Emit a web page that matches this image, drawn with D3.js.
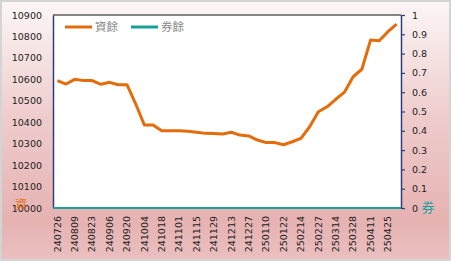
<!DOCTYPE html>
<html>
<head>
<meta charset="utf-8">
<script src="https://cdn.jsdelivr.net/npm/d3@7"></script>
<style>
  html, body { margin: 0; padding: 0; background: #fff; }
  svg { display: block; }
</style>
</head>
<body>
<div id="chart"></div>
<script>
// weekly dates (every other one is labelled)
const dates = ["240726","240802","240809","240816","240823","240830","240906","240913","240920","240927",
  "241004","241011","241018","241025","241101","241108","241115","241122","241129","241206",
  "241213","241220","241227","250103","250110","250117","250122","250207","250214","250221",
  "250227","250307","250314","250321","250328","250403","250411","250418","250425","250502"];
// 資餘 (left axis)
const marginBal = [10594,10578,10600,10594,10594,10577,10586,10575,10575,10486,
  10387,10387,10360,10360,10360,10358,10353,10348,10347,10345,
  10353,10340,10336,10317,10305,10305,10295,10309,10325,10379,
  10449,10472,10507,10540,10612,10647,10783,10780,10822,10857];
// 券餘 (right axis)
const shortBal = [0,0,0,0,0,0,0,0,0,0, 0,0,0,0,0,0,0,0,0,0,
  0,0,0,0,0,0,0,0,0,0, 0,0,0,0,0,0,0,0,0,0];
const leftTicks = [10000,10100,10200,10300,10400,10500,10600,10700,10800,10900];
const rightTicks = [0,0.1,0.2,0.3,0.4,0.5,0.6,0.7,0.8,0.9,1];
const seriesNames = ["資餘", "券餘"];
const colors = ["#e46c0a", "#18a09b"];

const W = 451, H = 261;
const margin = {top: 15, right: 50, bottom: 53, left: 53};
const width = W - margin.left - margin.right, height = H - margin.top - margin.bottom;
const font = "DejaVu Sans, Verdana, sans-serif";

const svg = d3.select("#chart").append("svg")
    .attr("width", W).attr("height", H);

// background gradient
const defs = svg.append("defs");
const grad = defs.append("linearGradient").attr("id", "bg")
    .attr("x1", 0).attr("y1", 0).attr("x2", 0).attr("y2", 1);
grad.append("stop").attr("offset", "0%").attr("stop-color", "#fcf6f6");
grad.append("stop").attr("offset", "45%").attr("stop-color", "#efcccc");
grad.append("stop").attr("offset", "85%").attr("stop-color", "#e6b2b2");
grad.append("stop").attr("offset", "100%").attr("stop-color", "#ebc0c0");

svg.append("rect").attr("x", 1).attr("y", 1).attr("width", W - 2).attr("height", H - 2)
    .attr("fill", "url(#bg)").attr("stroke", "#d4d4d4").attr("stroke-width", 2);

const g = svg.append("g").attr("transform", "translate(" + margin.left + "," + margin.top + ")");

g.append("rect").attr("width", width).attr("height", height).attr("fill", "#fff");

const x = d3.scaleBand().domain(dates).range([0, width]);
const xc = d => x(d) + x.bandwidth() / 2;
const yL = d3.scaleLinear().domain([10000, 10900]).range([height, 0]);
const yR = d3.scaleLinear().domain([0, 1]).range([height, 0]);

// left axis
const axL = g.append("g")
    .call(d3.axisLeft(yL).tickValues(leftTicks).tickSize(0).tickPadding(11).tickFormat(d3.format("d")));
axL.select(".domain").attr("stroke", "#2a3f7e").attr("stroke-width", 1.5);
axL.selectAll("text").attr("font-family", font).attr("font-size", "9.5px").attr("fill", "#222");

// right axis
const axR = g.append("g").attr("transform", "translate(" + width + ",0)")
    .call(d3.axisRight(yR).tickValues(rightTicks).tickSize(4).tickSizeOuter(0).tickPadding(7)
      .tickFormat(d => d3.format("")(+d.toFixed(1))));
axR.select(".domain").attr("stroke", "#2a3f7e").attr("stroke-width", 1.5);
axR.selectAll("line").attr("stroke", "#2a3f7e").attr("stroke-width", 1.2);
axR.selectAll("text").attr("font-family", font).attr("font-size", "9.5px").attr("fill", "#222");

// top border
g.append("line").attr("x1", 0).attr("x2", width).attr("y1", 0).attr("y2", 0)
    .attr("stroke", "#111").attr("stroke-width", 1.2);

// bottom axis
const axB = g.append("g").attr("transform", "translate(0," + height + ")")
    .call(d3.axisBottom(x).tickValues(dates.filter((d, i) => i % 2 === 0)).tickSize(0).tickPadding(0));
axB.select(".domain").remove();
axB.selectAll("text")
    .attr("font-family", font).attr("font-size", "9.5px").attr("fill", "#222")
    .attr("text-anchor", "end").attr("dy", "0.35em")
    .attr("transform", "translate(0,8) rotate(-90)")
    .attr("x", 0).attr("y", 0);

// lines
const lineL = d3.line().x((d, i) => xc(dates[i])).y(d => yL(d));

g.append("path").datum(shortBal)
    .attr("d", d3.line().x((d, i) => i === 0 ? 0 : (i === shortBal.length - 1 ? width : xc(dates[i]))).y(d => yR(d)))
    .attr("fill", "none").attr("stroke", colors[1]).attr("stroke-width", 2);

g.append("path").datum(marginBal)
    .attr("d", lineL)
    .attr("fill", "none").attr("stroke", colors[0]).attr("stroke-width", 3)
    .attr("stroke-linejoin", "round");

// legend
const legend = g.append("g").attr("transform", "translate(12,12)");
seriesNames.forEach((name, i) => {
  const lg = legend.append("g").attr("transform", "translate(" + (i * 66) + ",0)");
  lg.append("line").attr("x1", 0).attr("x2", 27).attr("y1", 0).attr("y2", 0)
      .attr("stroke", colors[i]).attr("stroke-width", 3);
  lg.append("text").attr("x", 30).attr("y", 0).attr("dy", "0.36em")
      .attr("font-family", "Noto Sans CJK TC, sans-serif").attr("font-size", "11.5px")
      .attr("fill", "#8a8a8a").text(name);
});

// axis titles (the reference draws 資 over the 10000 label)
svg.append("text").attr("x", 21).attr("y", 205).attr("dy", "0.36em").attr("text-anchor", "middle")
    .attr("font-family", "Noto Sans CJK TC, serif").attr("font-size", "12px")
    .attr("fill", colors[0]).attr("opacity", 0.85).text("資");
svg.append("text").attr("x", 428).attr("y", 207).attr("dy", "0.36em").attr("text-anchor", "middle")
    .attr("font-family", "Noto Sans CJK TC, serif").attr("font-size", "13px")
    .attr("fill", colors[1]).text("券");
</script>
</body>
</html>
